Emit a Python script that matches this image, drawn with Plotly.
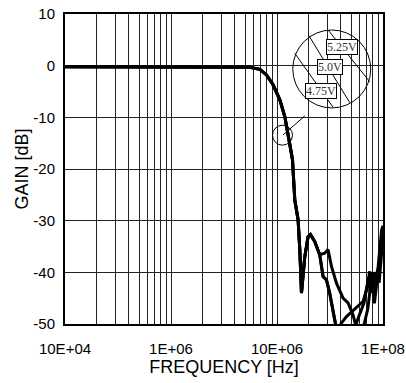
import plotly.graph_objects as go

''' Datos leidos de la grafica (frecuencia en Hz, ganancia en dB) '''
# tramo comun de las tres curvas (hasta ~25 MHz)
f_comun = [1e5, 1e6, 3e6, 4.5e6, 5.55e6, 6.89e6, 7.96e6, 9.18e6, 1.064e7, 1.186e7,
           1.274e7, 1.349e7, 1.40e7, 1.472e7, 1.581e7, 1.641e7, 1.702e7, 1.828e7,
           1.963e7, 2.07e7, 2.265e7, 2.53e7]
g_comun = [-0.2, -0.2, -0.2, -0.22, -0.3, -0.7, -1.8, -3.7, -6.6, -9.9,
           -13.1, -16.3, -18.2, -26.0, -29.8, -35.6, -44.0, -37.0,
           -33.1, -32.7, -34.0, -36.6]

# 4.75V
f_475 = [2.72e7, 2.93e7, 3.14e7, 3.38e7, 3.58e7, 3.75e7, 4.05e7, 4.5e7, 4.9e7, 5.2e7,
         5.9e7, 6.5e7, 7.0e7, 7.5e7, 7.8e7, 8.7e7, 9.0e7, 9.7e7, 1e8]
g_475 = [-40.8, -41.5, -44.0, -47.9, -50.2, -51.0, -49.8, -48.6, -47.9, -47.6,
         -46.5, -45.6, -43.4, -39.8, -43.7, -40.8, -38.9, -31.8, -31.0]

# 5.0V
f_500 = [2.82e7, 3.03e7, 3.27e7, 3.64e7, 4.2e7, 4.68e7, 5.21e7, 5.61e7, 6.0e7,
         6.3e7, 7.2e7, 7.9e7, 8.3e7, 9.1e7, 1e8]
g_500 = [-36.3, -35.6, -38.9, -42.1, -45.0, -45.9, -48.2, -50.5, -53.0,
         -52.0, -47.0, -40.0, -46.0, -39.0, -32.0]

# 5.25V
f_525 = [2.72e7, 2.93e7, 3.14e7, 3.38e7, 3.58e7, 3.9e7, 4.4e7, 5.2e7, 5.8e7,
         6.6e7, 7.3e7, 7.6e7, 8.3e7, 9.2e7, 1e8]
g_525 = [-40.8, -41.5, -44.0, -47.9, -50.2, -53.0, -55.0, -52.0, -49.0,
         -46.0, -41.0, -44.0, -40.0, -42.0, -33.0]

''' Ejes '''
x_ticks = [1e5, 2e5, 3e5, 4e5, 5e5, 6e5, 7e5, 8e5, 9e5,
           1e6, 2e6, 3e6, 4e6, 5e6, 6e6, 7e6, 8e6, 9e6,
           1e7, 2e7, 3e7, 4e7, 5e7, 6e7, 7e7, 8e7, 9e7, 1e8]
x_labels = ['10E+04', '', '', '', '', '', '', '', '',
            '1E+06', '', '', '', '', '', '', '', '',
            '10E+06', '', '', '', '', '', '', '', '',
            '1E+08']
y_ticks = [-50, -40, -30, -20, -10, 0, 10]
y_labels = ['-50', '-40', '-30', '-20', '-10', '0', '10']

etiquetas = ['5.25V', '5.0V', '4.75V']

fig = go.Figure()

for f_v, g_v, nombre in [(f_475, g_475, '4.75V'), (f_500, g_500, '5.0V'), (f_525, g_525, '5.25V')]:
    fig.add_trace(go.Scatter(x=f_comun + f_v, y=g_comun + g_v, mode='lines', name=nombre,
                             line=dict(color='black', width=3), showlegend=False))

''' Circulos y lineas de la anotacion (en coordenadas de papel) '''
lin = dict(color='black', width=1)
fig.add_shape(type='circle', xref='paper', yref='paper', x0=0.7163, x1=0.9614, y0=0.697, y1=0.9484, line=lin)
fig.add_shape(type='circle', xref='paper', yref='paper', x0=0.6525, x1=0.7154, y0=0.5769, y1=0.6413, line=lin)
fig.add_shape(type='line', xref='paper', yref='paper', x0=0.6858, y0=0.6099, x1=0.754, y1=0.6712, line=lin)
fig.add_shape(type='line', xref='paper', yref='paper', x0=0.8272, y0=0.9484, x1=0.9582, y1=0.7818, line=lin)
fig.add_shape(type='line', xref='paper', yref='paper', x0=0.7675, y0=0.9291, x1=0.8954, y1=0.7142, line=lin)
fig.add_shape(type='line', xref='paper', yref='paper', x0=0.7226, y0=0.8733, x1=0.8429, y1=0.6993, line=lin)

pos_etq = [(0.8718, 0.8937), (0.8335, 0.8282), (0.8037, 0.7509)]
for txt, (px, py) in zip(etiquetas, pos_etq):
    fig.add_annotation(x=px, y=py, xref='paper', yref='paper', text=txt, showarrow=False,
                       xanchor='center', yanchor='middle',
                       font=dict(family='Liberation Serif', size=12, color='#333'),
                       bgcolor='white', bordercolor='black', borderwidth=1, borderpad=0)

fig.update_layout(width=406, height=383,
                  margin=dict(l=65, r=23, t=14, b=59),
                  paper_bgcolor='white', plot_bgcolor='white',
                  font=dict(family='Liberation Sans', size=15, color='black'))

fig.update_xaxes(type='log', range=[5, 8], tickvals=x_ticks, ticktext=x_labels,
                 showgrid=True, gridcolor='#222', gridwidth=1, zeroline=False,
                 showline=True, linecolor='black', linewidth=2, mirror=True,
                 ticks='', ticklabelstandoff=10, automargin=False, ticklabeloverflow='allow',
                 title=dict(text='FREQUENCY [Hz]', standoff=0))
fig.update_yaxes(range=[-50, 10], tickvals=y_ticks, ticktext=y_labels,
                 showgrid=True, gridcolor='#222', gridwidth=1, zeroline=False,
                 showline=True, linecolor='black', linewidth=2, mirror=True,
                 ticks='', ticklabelstandoff=5, automargin=False, ticklabeloverflow='allow',
                 title=dict(text='GAIN [dB]', standoff=0))

# quitar el margen por defecto del body para que la figura ocupe toda la ventana
fig.write_html("out.html", config={'displayModeBar': False},
               post_script="document.body.style.margin='0px';")
